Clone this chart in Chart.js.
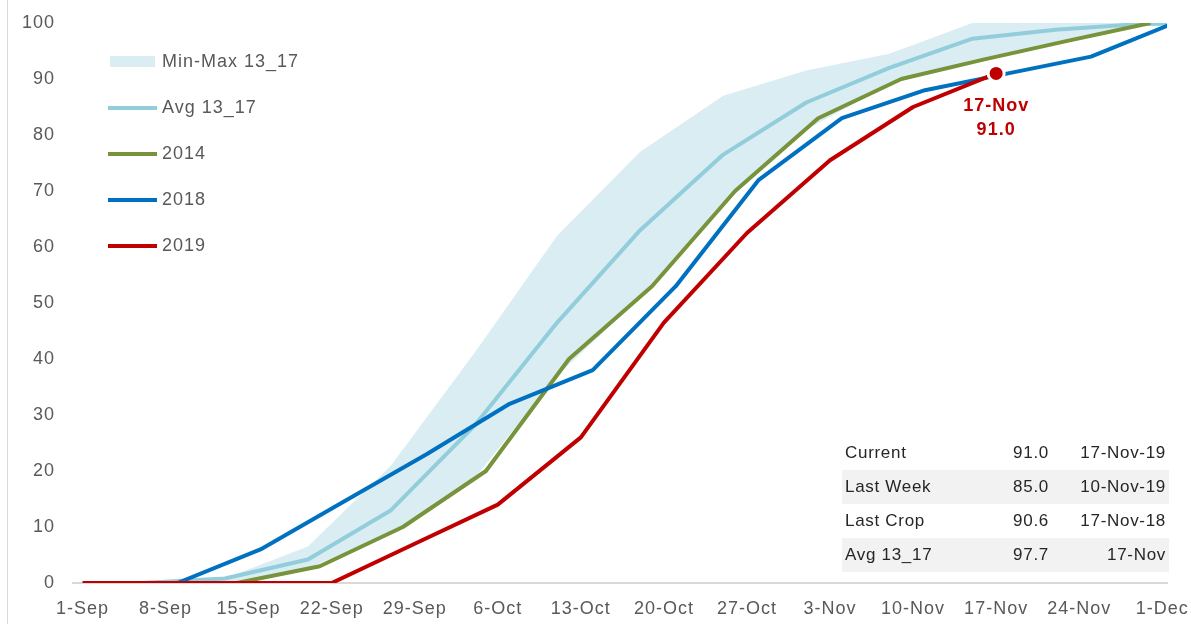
<!DOCTYPE html>
<html>
<head>
<meta charset="utf-8">
<title>Harvest progress</title>
<script src="https://cdn.jsdelivr.net/npm/chart.js@4.4.1/dist/chart.umd.min.js"></script>
<style>
    body { margin: 0; background: #fff; }
    #wrap { position: relative; width: 1191px; height: 624px; }
</style>
</head>
<body>
<div id="wrap"><canvas id="progressChart" width="1191" height="624"></canvas></div>
<script>
// x values are days after 1-Sep (each year placed on the 2019 calendar)
var xTickDays = [0, 7, 14, 21, 28, 35, 42, 49, 56, 63, 70, 77, 84, 91];
var xTickLabels = ['1-Sep', '8-Sep', '15-Sep', '22-Sep', '29-Sep', '6-Oct', '13-Oct',
    '20-Oct', '27-Oct', '3-Nov', '10-Nov', '17-Nov', '24-Nov', '1-Dec'];

var days5yr = [5, 12, 19, 26, 33, 40, 47, 54, 61, 68, 75, 82, 89, 96];
var max5yr = [0, 0.8, 6.5, 21, 41, 62, 77, 87, 91.5, 94.5, 100, 100, 100, 100];
var min5yr = [0, 0, 2.6, 9, 18.6, 37, 51, 67.6, 81, 89, 93.4, 96.6, 99.6, 100];
var avg5yr = [0, 0.8, 4.2, 13, 28, 46.5, 63, 76.5, 85.8, 92, 97.2, 98.8, 99.8, 100];

var days2014 = [6, 13, 20, 27, 34, 41, 48, 55, 62, 69, 76, 83, 90];
var pct2014 = [0, 0, 3, 10, 20, 40, 53, 70, 83, 90, 93.5, 96.8, 100];

var days2018 = [1, 8, 15, 22, 29, 36, 43, 50, 57, 64, 71, 78, 85, 92];
var pct2018 = [0, 0, 6, 14.5, 23, 32, 38, 53, 72, 83, 88, 91, 94, 100];

var days2019 = [0, 7, 14, 21, 28, 35, 42, 49, 56, 63, 70, 77];
var pct2019 = [0, 0, 0, 0, 7, 14, 26, 46.5, 62.5, 75.5, 85, 91];

var tableRows = [
    ['Current', '91.0', '17-Nov-19'],
    ['Last Week', '85.0', '10-Nov-19'],
    ['Last Crop', '90.6', '17-Nov-18'],
    ['Avg 13_17', '97.7', '17-Nov']
];

var gray = '#595959';
var fontFamily = "'Liberation Sans', Arial, sans-serif";

function points(days, values) {
    return days.map(function (d, i) { return { x: d, y: values[i] }; });
}

var framePlugin = {
    id: 'frame',
    beforeLayout: function (chart) { chart.ctx.letterSpacing = '1px'; },
    beforeDraw: function (chart) {
        var ctx = chart.ctx;
        ctx.letterSpacing = '1px';
        ctx.save();
        ctx.strokeStyle = '#d9d9d9';
        ctx.lineWidth = 1;
        ctx.beginPath();
        ctx.moveTo(7.5, 0);
        ctx.lineTo(7.5, chart.height);
        ctx.stroke();
        ctx.restore();
    }
};

var legendPlugin = {
    id: 'sideLegend',
    afterDraw: function (chart) {
        var ctx = chart.ctx;
        var items = chart.data.datasets.filter(function (d) { return d.label; });
        ctx.save();
        ctx.font = '18px ' + fontFamily;
        ctx.textBaseline = 'middle';
        ctx.textAlign = 'left';
        items.forEach(function (item, i) {
            var y = 62 + i * 46;
            if (item.fill) {
                ctx.fillStyle = item.backgroundColor;
                ctx.fillRect(110, y - 6, 45, 11);
            } else {
                ctx.strokeStyle = item.borderColor;
                ctx.lineWidth = 4;
                ctx.beginPath();
                ctx.moveTo(108, y);
                ctx.lineTo(157, y);
                ctx.stroke();
            }
            ctx.fillStyle = gray;
            ctx.fillText(item.label, 162, y);
        });

        // summary table, bottom right
        ctx.font = '17px ' + fontFamily;
        ctx.letterSpacing = '0.7px';
        tableRows.forEach(function (row, i) {
            var top = 436 + i * 34;
            if (i % 2 === 1) {
                ctx.fillStyle = '#f2f2f2';
                ctx.fillRect(842, top, 327, 34);
            }
            ctx.fillStyle = '#262626';
            ctx.textAlign = 'left';
            ctx.fillText(row[0], 845, top + 17);
            ctx.textAlign = 'right';
            ctx.fillText(row[1], 1049, top + 17);
            ctx.fillText(row[2], 1166, top + 17);
        });
        ctx.restore();
    }
};

var lastPointLabel = {
    id: 'lastPointLabel',
    afterDatasetsDraw: function (chart) {
        var idx = chart.data.datasets.length - 1;
        var meta = chart.getDatasetMeta(idx);
        var last = pct2019.length - 1;
        var pt = meta.data[last];
        var ctx = chart.ctx;
        ctx.save();
        ctx.font = 'bold 18px ' + fontFamily;
        ctx.fillStyle = '#c00000';
        ctx.textAlign = 'center';
        ctx.textBaseline = 'middle';
        ctx.fillText(xTickLabels[xTickDays.indexOf(days2019[last])], pt.x, pt.y + 33);
        ctx.fillText(pct2019[last].toFixed(1), pt.x, pt.y + 57);
        ctx.restore();
    }
};

var ctx = document.getElementById('progressChart').getContext('2d');
new Chart(ctx, {
    type: 'line',
    data: {
        datasets: [{
            label: 'Min-Max 13_17',
            data: points(days5yr, max5yr),
            borderWidth: 0,
            backgroundColor: '#daedf3',
            fill: '+1',
            pointRadius: 0,
            order: 6
        }, {
            data: points(days5yr, min5yr),
            borderWidth: 0,
            borderColor: 'rgba(0,0,0,0)',
            fill: false,
            pointRadius: 0,
            order: 7
        }, {
            label: 'Avg 13_17',
            data: points(days5yr, avg5yr),
            borderColor: '#92cddc',
            borderWidth: 4,
            fill: false,
            pointRadius: 0,
            order: 4
        }, {
            label: '2014',
            data: points(days2014, pct2014),
            borderColor: '#77933c',
            borderWidth: 4,
            fill: false,
            pointRadius: 0,
            order: 3
        }, {
            label: '2018',
            data: points(days2018, pct2018),
            borderColor: '#0070c0',
            borderWidth: 4,
            fill: false,
            pointRadius: 0,
            order: 2
        }, {
            label: '2019',
            data: points(days2019, pct2019),
            borderColor: '#c00000',
            borderWidth: 4,
            fill: false,
            pointRadius: function (c) { return c.dataIndex === pct2019.length - 1 ? 8 : 0; },
            pointBackgroundColor: '#c00000',
            pointBorderColor: '#ffffff',
            pointBorderWidth: 3,
            order: 1
        }]
    },
    options: {
        responsive: false,
        animation: false,
        events: [],
        elements: { line: { tension: 0, borderJoinStyle: 'round', borderCapStyle: 'butt' } },
        layout: { padding: { top: 23, right: 24, left: 0, bottom: 0 } },
        plugins: {
            legend: { display: false },
            tooltip: { enabled: false }
        },
        scales: {
            x: {
                type: 'linear',
                min: -0.8,
                max: 91.4,
                afterBuildTicks: function (scale) {
                    scale.ticks = xTickDays.map(function (v) { return { value: v }; });
                },
                afterFit: function (scale) {
                    scale.height = 41;
                    scale.paddingLeft = 0;
                    scale.paddingRight = 0;
                },
                grid: { display: false, drawTicks: false },
                border: { display: true, color: '#d9d9d9', width: 2 },
                ticks: {
                    autoSkip: false,
                    maxRotation: 0,
                    padding: 15,
                    color: gray,
                    font: { family: fontFamily, size: 18 },
                    callback: function (value) { return xTickLabels[xTickDays.indexOf(value)]; }
                }
            },
            y: {
                min: 0,
                max: 100,
                afterFit: function (scale) {
                    scale.width = 73;
                    scale.paddingTop = 0;
                    scale.paddingBottom = 0;
                },
                grid: { display: false, drawTicks: false },
                border: { display: false },
                ticks: {
                    stepSize: 10,
                    padding: 18,
                    color: gray,
                    font: { family: fontFamily, size: 18 }
                }
            }
        }
    },
    plugins: [framePlugin, legendPlugin, lastPointLabel]
});
</script>
</body>
</html>
